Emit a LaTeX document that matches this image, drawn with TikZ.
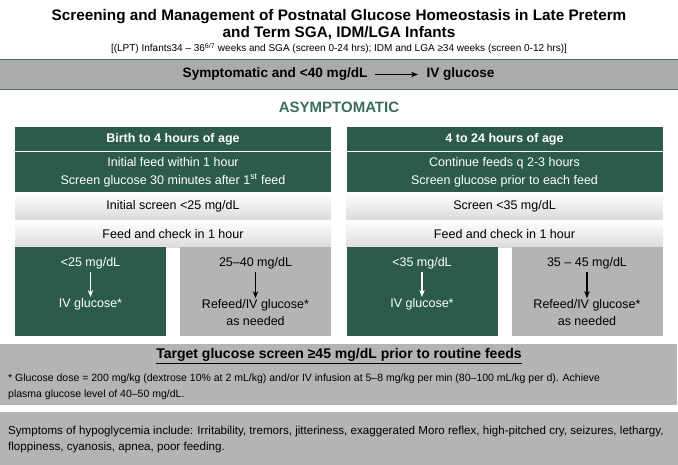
\documentclass[tikz,border=0pt]{standalone}
\usepackage{fontspec}
\setmainfont{Liberation Sans}
\usetikzlibrary{arrows.meta,positioning,calc}
\definecolor{pine}{HTML}{2C5B4E}
\definecolor{asym}{HTML}{3A6D5C}
\definecolor{stone}{HTML}{B4B4B4}
\definecolor{slate}{HTML}{ABABAB}
\definecolor{rim}{HTML}{4F6B63}
\definecolor{mist}{HTML}{DADADA}
\newcommand{\fs}[2]{\fontsize{#1}{#2}\selectfont}
\tikzset{colhead/.style={fill=pine,text=white,font=\fs{12.5}{15}\bfseries,minimum width=316pt,minimum height=24pt,inner sep=0pt},colbody/.style={fill=pine,text=white,font=\fs{12.5}{18},align=center,minimum width=316pt,minimum height=40pt,inner sep=0pt},screenbox/.style={top color=white,bottom color=mist,font=\fs{12.5}{15},minimum width=316pt,minimum height=27.5pt,inner sep=0pt},ivbox/.style={fill=pine,minimum width=151pt,minimum height=89pt,inner sep=0pt},refeedbox/.style={fill=stone,minimum width=151pt,minimum height=89pt,inner sep=0pt},lbl/.style={font=\fs{12.5}{17},align=center,inner sep=0pt},band/.style={fill=stone,inner sep=0pt,anchor=north west},every picture/.style={>={Stealth[length=7pt,width=5.5pt]}}}
\begin{document}
\begin{tikzpicture}[x=1pt,y=-1pt]
\useasboundingbox (0,0) rectangle (678,465);
\node[font=\fs{15.3}{17.5}\bfseries,align=center] (title) at (339,24.5) {Screening and Management of Postnatal Glucose Homeostasis in Late Preterm\\and Term SGA, IDM/LGA Infants};
\node[font=\fs{10}{12}] (sub) at (339,48.5) {[(LPT) Infants34 -- 36\textsuperscript{6/7} weeks and SGA (screen 0-24 hrs); IDM and LGA ≥34 weeks (screen 0-12 hrs)]};
\node[fill=slate,minimum width=678pt,minimum height=29.5pt,inner sep=0pt] (symp) at (339,74.5) {};
\draw[rim,line width=1.5pt] (symp.north west)--(symp.north east) (symp.south west)--(symp.south east);
\node[font=\fs{13.6}{16}\bfseries,anchor=east] (sympL) at (371,74.5) {Symptomatic and <40 mg/dL};
\node[font=\fs{13.6}{16}\bfseries,anchor=west] (sympR) at (423,74.5) {IV glucose};
\draw[->,line width=1.2pt] (sympL.east)++(4,0) -- ($(sympR.west)+(-5,0)$);
\node[font=\fs{15}{18}\bfseries,text=asym] (asym) at (339,107) {ASYMPTOMATIC};
\foreach \cx/\n/\head/\body/\scr in {173/L/Birth to 4 hours of age/Initial feed within 1 hour\\Screen glucose 30 minutes after 1\textsuperscript{st} feed/{Initial screen <25 mg/dL},504.5/R/4 to 24 hours of age/Continue feeds q 2-3 hours\\Screen glucose prior to each feed/{Screen <35 mg/dL}}{
\node[colhead] (head\n) at (\cx,139) {\head};
\node[colbody] (body\n) at (\cx,172) {\body};
\node[screenbox] (scr\n) at (\cx,206.25) {\scr};
\node[screenbox] (feed\n) at (\cx,234.25) {Feed and check in 1 hour};}
\foreach \cx/\n/\lim in {90.5/a/<25,422/c/<35}{
\node[ivbox] (box\n) at (\cx,292) {};
\node[lbl,text=white] (top\n) at (\cx,263) {\lim\ mg/dL};
\node[lbl,text=white] (bot\n) at (\cx,304) {IV glucose*};
\draw[->,white,line width=1.2pt,shorten <=3pt,shorten >=1pt] (top\n) -- (bot\n);}
\foreach \cx/\n/\lim in {255.5/b/25--40,587/d/35 -- 45}{
\node[refeedbox] (box\n) at (\cx,292) {};
\node[lbl] (top\n) at (\cx,263) {\lim\ mg/dL};
\node[lbl] (bot\n) at (\cx,312.5) {Refeed/IV glucose*\\as needed};
\draw[->,line width=1.2pt,shorten <=3pt,shorten >=1pt] (top\n) -- (bot\n);}
\node[band,minimum width=677pt,minimum height=61pt] (target) at (0,344) {};
\node[font=\fs{14}{17}\bfseries] (goal) at (339,356) {\underline{Target glucose screen ≥45 mg/dL prior to routine feeds}};
\node[font=\fs{10.5}{16},anchor=west,align=left,inner sep=0pt] (dose) at (8,387) {* Glucose dose = 200 mg/kg (dextrose 10\% at 2 mL/kg) and/or IV infusion at 5--8 mg/kg per min (80--100 mL/kg per d). Achieve\\plasma glucose level of 40--50 mg/dL.};
\node[band,minimum width=678pt,minimum height=53pt] (signs) at (0,412) {};
\node[font=\fs{11.6}{16.5},anchor=west,align=left,inner sep=0pt] (sympt) at (8,439.5) {Symptoms of hypoglycemia include: Irritability, tremors, jitteriness, exaggerated Moro reflex, high-pitched cry, seizures, lethargy,\\floppiness, cyanosis, apnea, poor feeding.};
\end{tikzpicture}
\end{document}
